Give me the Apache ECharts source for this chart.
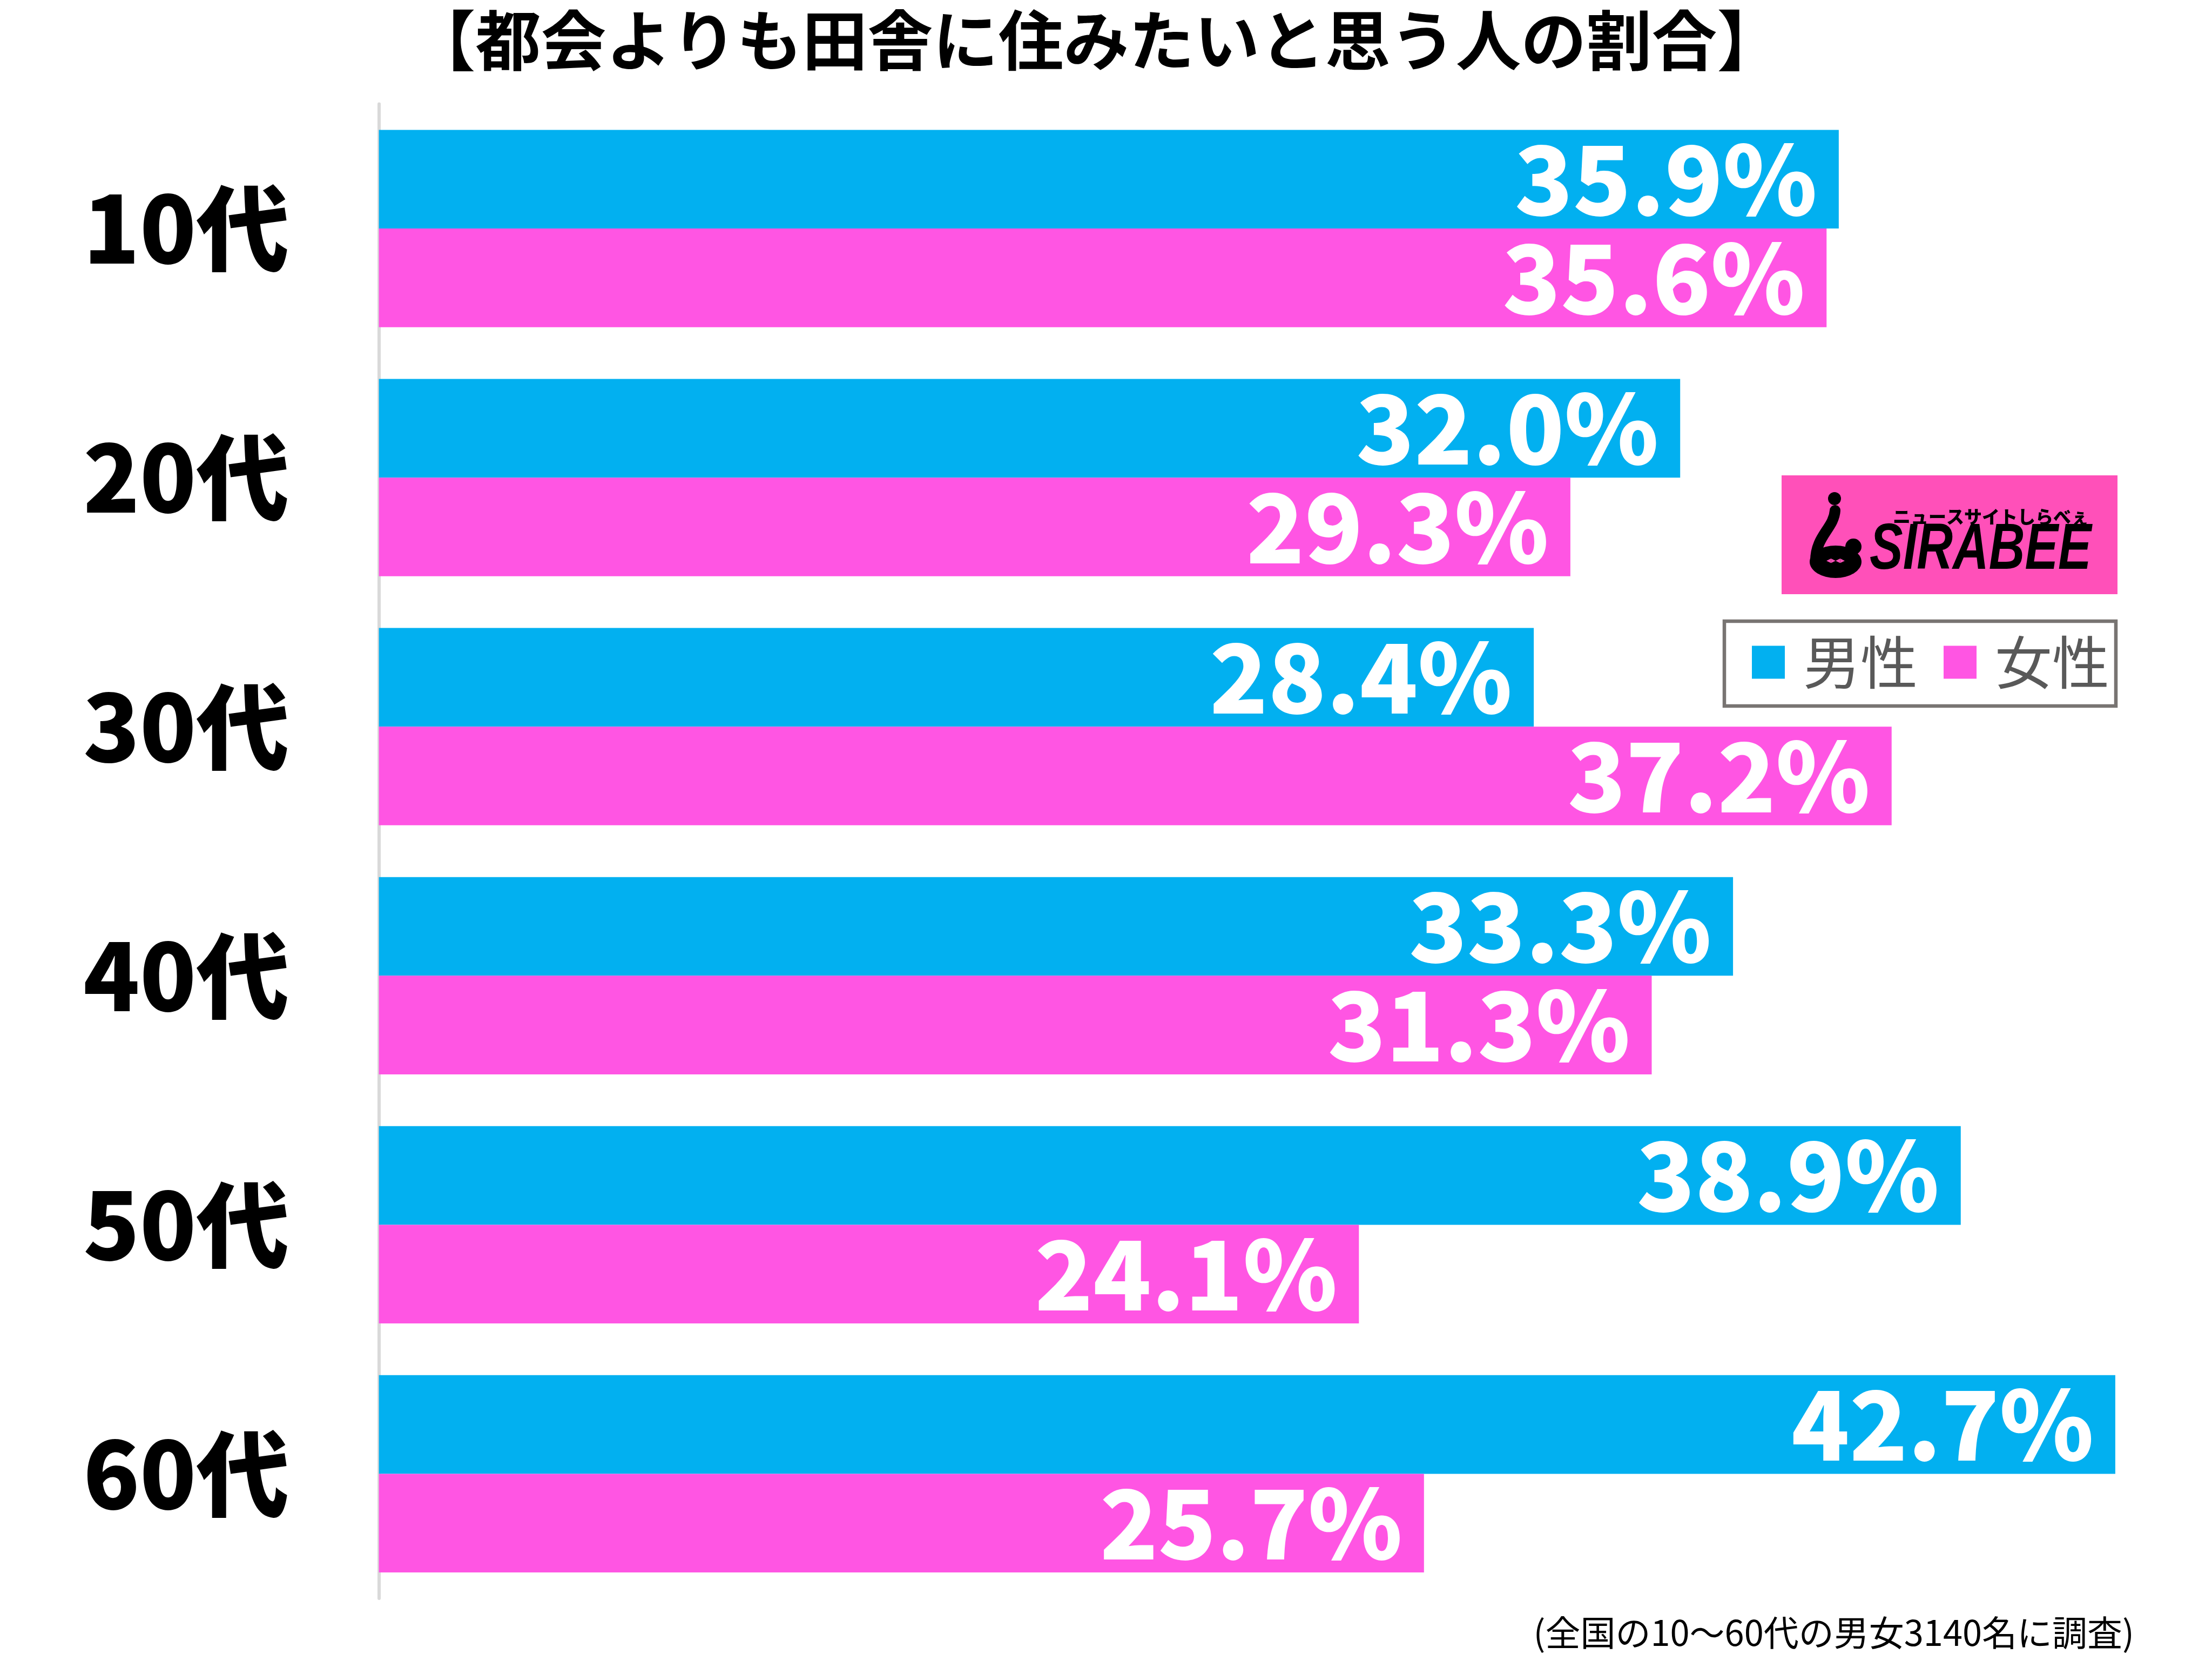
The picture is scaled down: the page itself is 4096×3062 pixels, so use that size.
<!DOCTYPE html>
<html>
<head>
<meta charset="utf-8">
<script src="https://cdn.jsdelivr.net/npm/echarts@6/dist/echarts.min.js"></script>
<style>
html,body{margin:0;padding:0;background:#fff;}
#main{width:4096px;height:3062px;}
</style>
</head>
<body>
<div id="main"></div>
<script>
const categories = ['10代', '20代', '30代', '40代', '50代', '60代'];
const seriesNames = ['男性', '女性'];
const maleValues = [35.9, 32.0, 28.4, 33.3, 38.9, 42.7];
const femaleValues = [35.6, 29.3, 37.2, 31.3, 24.1, 25.7];
const titleText = '【都会よりも田舎に住みたいと思う人の割合】';
const noteText = '(全国の10〜60代の男女3140名に調査)';

const BLUE = '#02b0f0';
const PINK = '#ff55e3';
const JP = '"Noto Sans CJK JP", "Noto Sans", sans-serif';

const chart = echarts.init(document.getElementById('main'), null, {renderer: 'canvas'});

const labelStyle = {
  show: true,
  position: 'insideRight',
  distance: 40,
  color: '#fff',
  fontSize: 177,
  fontWeight: 900,
  fontFamily: JP,
  formatter: p => p.value.toFixed(1) + '%'
};

const option = {
  backgroundColor: '#fff',
  animation: false,
  title: {
    text: titleText,
    left: 2030,
    top: 14,
    padding: 0,
    textAlign: 'center',
    textStyle: {fontSize: 121, fontWeight: 'bold', color: '#000', fontFamily: JP}
  },
  legend: {
    data: seriesNames,
    left: 3193,
    top: 1150,
    orient: 'horizontal',
    icon: 'rect',
    itemWidth: 61,
    itemHeight: 61,
    itemGap: 48,
    padding: [23, 12, 28, 51],
    borderColor: '#787472',
    borderWidth: 6.5,
    backgroundColor: '#fff',
    textStyle: {fontSize: 106, lineHeight: 106, color: '#595959', fontFamily: JP, fontWeight: 'normal', padding: [0, 0, 0, 29]}
  },
  grid: {
    left: 701.6,
    top: 192.5,
    height: 2766.5,
    width: 3388.5,
    containLabel: false,
    outerBoundsMode: 'none'
  },
  xAxis: {
    type: 'value',
    min: 0,
    max: 45,
    show: false,
    splitLine: {show: false}
  },
  yAxis: {
    type: 'category',
    data: categories,
    inverse: true,
    offset: 3,
    axisTick: {show: false},
    axisLine: {show: true, lineStyle: {color: '#d9d9d9', width: 6}},
    axisLabel: {
      margin: 163,
      fontSize: 172,
      fontWeight: 900,
      color: '#000',
      fontFamily: JP,
      padding: [22, 0, 0, 0]
    }
  },
  series: [
    {
      name: seriesNames[0],
      type: 'bar',
      data: maleValues,
      barGap: '0%',
      barCategoryGap: '20.8%',
      itemStyle: {color: BLUE},
      label: labelStyle,
      z: 3
    },
    {
      name: seriesNames[1],
      type: 'bar',
      data: femaleValues,
      barGap: '0%',
      barCategoryGap: '20.8%',
      itemStyle: {color: PINK},
      label: labelStyle,
      z: 3
    }
  ],
  graphic: [
    {
      type: 'text',
      x: 3952,
      y: 3022,
      style: {text: noteText, fontSize: 65, fill: '#000', fontFamily: JP, align: 'right', verticalAlign: 'middle'}
    },
    {
      type: 'group',
      children: [
        {type: 'rect', shape: {x: 3299, y: 880, width: 622, height: 220}, style: {fill: '#ff50b9'}},
        {type: 'circle', shape: {cx: 3397, cy: 923, r: 12}, style: {fill: '#000'}},
        {type: 'circle', x: 3399, y: 1040, scaleY: 0.625, shape: {cx: 0, cy: 0, r: 48}, style: {fill: '#000'}},
        {type: 'circle', shape: {cx: 3432, cy: 1012, r: 15}, style: {fill: '#000'}},
        {type: 'bezierCurve', shape: {x1: 3398, y1: 945, cpx1: 3396, cpy1: 978, cpx2: 3362, cpy2: 992, x2: 3362, y2: 1038}, style: {stroke: '#000', lineWidth: 20, fill: null, lineCap: 'round'}},
        {type: 'text', x: 3399, y: 1038, style: {text: '◀▶◀▶', fontSize: 11, fill: '#ff50b9', align: 'center', verticalAlign: 'middle', fontFamily: '"DejaVu Sans"'}},
        {type: 'text', x: 3462, y: 1020, scaleX: 0.77, style: {text: 'SIRABEE', fontSize: 120, fontWeight: 900, fontStyle: 'italic', fill: '#000', verticalAlign: 'middle', fontFamily: '"Liberation Sans", sans-serif'}},
        {type: 'text', x: 3505, y: 956, style: {text: 'ニュースサイトしらべぇ', fontSize: 33, fontWeight: 900, fill: '#000', verticalAlign: 'middle', fontFamily: JP}}
      ]
    }
  ]
};

chart.setOption(option);
</script>
</body>
</html>
